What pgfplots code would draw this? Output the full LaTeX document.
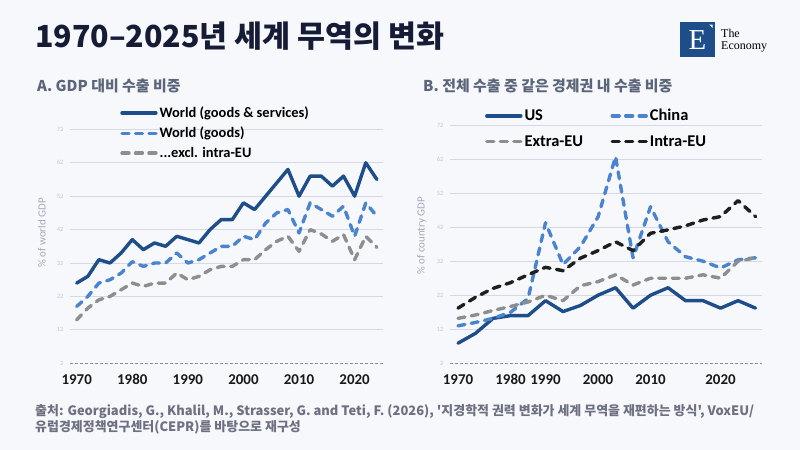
\documentclass[border=0pt]{standalone}
\usepackage{pgfplots}
\pgfplotsset{compat=1.18}
\usepackage{fontspec}
\setmainfont{Carlito}
\newfontfamily\kr{Noto Sans CJK KR}
\newfontfamily\lserif{Liberation Serif}

\definecolor{bgc}{HTML}{F7F8FC}
\definecolor{titlec}{HTML}{161B36}
\definecolor{subc}{HTML}{5B6479}
\definecolor{footc}{HTML}{6C7080}
\definecolor{dblue}{HTML}{1D4E89}
\definecolor{lblue}{HTML}{4A84CF}
\definecolor{greyc}{HTML}{8E8E8E}
\definecolor{blackc}{HTML}{1E1E1E}
\definecolor{gridc}{HTML}{D6D9E3}
\definecolor{ytc}{HTML}{C3C7D3}
\definecolor{ylc}{HTML}{A3A9BA}
\definecolor{logoc}{HTML}{1D4E89}

\pgfplotsset{
 panel/.style={
  scale only axis, anchor=south west,
  ymin=2, ymax=72,
  ytick={12,22,...,72},
  extra y ticks={2},
  extra y tick style={grid=major, major grid style={color=greyc, line width=0.7bp, dash pattern=on 3bp off 2bp}},
  ymajorgrids, major grid style={color=gridc, line width=0.8bp},
  axis line style={draw=none},
  major tick length=0pt,
  yticklabel style={font=\fontsize{6.5}{6.5}\selectfont, color=ytc, xshift=-3bp},
  xticklabel style={font=\bfseries\fontsize{15}{15}\selectfont, color=black!90, yshift=-7.5bp},
  ylabel style={font=\fontsize{11}{11}\selectfont, color=ylc, anchor=center},
  /pgf/number format/assume math mode=true,
  legend style={draw=none, fill=none, anchor=north west, inner sep=0pt},
  legend cell align=left,
  legend image code/.code={\draw[##1] (0bp,0bp) -- (34bp,0bp);},
  clip=false,
 },
 s1/.style={dblue, line width=3.4bp, line join=round, line cap=round, no marks},
 s2/.style={lblue, line width=3.4bp, dash pattern=on 7bp off 6.5bp, line cap=round, line join=round, no marks},
 s3/.style={greyc, line width=3.4bp, dash pattern=on 7bp off 6.5bp, line cap=round, line join=round, no marks},
 s4/.style={blackc, line width=3.4bp, dash pattern=on 7bp off 6.5bp, line cap=round, line join=round, no marks},
}

\pgfplotstableread{
year wgs wg ex
1970 26 19 15
1972 28 22 18.5
1974 33 26 21
1976 32 27 22
1978 35 29 24
1980 39 32.4 26
1982 36 31 25
1984 38 32 26
1986 37 32 26
1988 40 35 29
1990 39 32 27
1992 38 33 28
1994 42 35 30
1996 45 37 31
1998 45 37 31
2000 50 40 33
2002 48 39 33
2004 52 44 36
2006 56 47 38.5
2008 60 48 40
2010 52 41 35.5
2012 58 50 42
2014 58 48 40.7
2016 55 46 38.5
2018 58 49 40.5
2020 52 40 33
2022 62 50 40
2024 57 46 36.7
}\tabA

\pgfplotstableread{
idx us cn xeu ieu
0 7.9 13 15.2 18.2
1 10.8 14 16.2 21.4
2 15.2 15.2 17.5 24
3 16 17 18.7 25.7
4 16 21 20 28
5 20.4 43.3 22 30.2
6 17.2 31 20.4 29.2
7 19 36.3 24.8 32.9
8 22 45 26 35.1
9 24.2 62.7 28 37.7
10 18.2 33 25 35.1
11 22 48 27 40.2
12 24.2 37.7 27 41.2
13 20.4 33.3 27 42.4
14 20.4 32 28 44.1
15 18.2 30 27 45.1
16 20.4 32.4 32 49.8
17 18.2 33 33 45.1
}\tabB

\begin{document}
\begin{tikzpicture}
\path[use as bounding box] (0bp,0bp) rectangle (800bp,-450bp);
\fill[bgc] (0bp,0bp) rectangle (800bp,-450bp);

% title
\node[anchor=base west, inner sep=0pt, font=\kr\bfseries\fontsize{30.5}{30.5}\selectfont, color=titlec] at (35bp,-47.5bp) {1970–2025년 세계 무역의 변화};

% logo
\fill[logoc] (680bp,-22bp) rectangle (715bp,-57bp);
\fill[white] (709bp,-24.5bp) -- (712.5bp,-24.5bp) -- (712.5bp,-28bp) -- cycle;
\node[font=\lserif\fontsize{29}{29}\selectfont, color=white, inner sep=0pt] at (697.5bp,-40.5bp) {E};
\node[anchor=base west, font=\lserif\fontsize{12}{12}\selectfont, color=black, inner sep=0pt] at (721bp,-37.5bp) {The};
\node[anchor=base west, font=\lserif\fontsize{12}{12}\selectfont, color=black, inner sep=0pt] at (721bp,-49bp) {Economy};

% subtitles
\node[anchor=base west, inner sep=0pt, font=\kr\bfseries\fontsize{15}{15}\selectfont, color=subc] at (37bp,-91.5bp) {A. GDP 대비 수출 비중};
\node[anchor=base west, inner sep=0pt, font=\kr\bfseries\fontsize{15}{15}\selectfont, color=subc] at (423bp,-91.5bp) {B. 전체 수출 중 같은 경제권 내 수출 비중};

% footer
\node[anchor=base west, inner sep=0pt, font=\kr\bfseries\fontsize{13}{13}\selectfont, color=footc] at (35bp,-415.5bp) {출처: Georgiadis, G., Khalil, M., Strasser, G. and Teti, F. (2026), '지경학적 권력 변화가 세계 무역을 재편하는 방식', VoxEU/};
\node[anchor=base west, inner sep=0pt, font=\kr\bfseries\fontsize{13}{13}\selectfont, color=footc] at (35bp,-431.5bp) {유럽경제정책연구센터(CEPR)를 바탕으로 재구성};

% panel A
\begin{axis}[panel,
  at={(70bp,-363.3bp)}, width=313bp, height=234bp,
  xmin=1968.8, xmax=2025.1,
  xtick={1970,1980,1990,2000,2010,2020},
  xticklabels={1970,1980,1990,2000,2010,2020},
  ylabel={\% of world GDP},
  ylabel style={at={(axis description cs:-0.09,0.557)}},
  legend style={at={(axis description cs:0.16,1.105)}, font=\bfseries\fontsize{14.5}{14.5}\selectfont, row sep=4bp},
]
\addplot[s1] table[x=year,y=wgs]{\tabA};
\addlegendentry{World (goods \& services)}
\addplot[s2] table[x=year,y=wg]{\tabA};
\addlegendentry{World (goods)}
\addplot[s3] table[x=year,y=ex]{\tabA};
\addlegendentry{...excl. intra-EU}
\end{axis}

% panel B
\begin{axis}[panel,
  at={(450bp,-363.3bp)}, width=311.7bp, height=238.3bp,
  xmin=-0.457, xmax=17.35,
  xtick={0,3,5,8,11,15},
  xticklabels={1970,1980,1990,2000,2010,2020},
  ylabel={\% of country GDP},
  ylabel style={at={(axis description cs:-0.091,0.535)}},
  legend columns=2,
  legend style={at={(axis description cs:0.112,1.075)}, font=\bfseries\fontsize{16.5}{16.5}\selectfont, row sep=9bp},
]
\addplot[s1] table[x=idx,y=us]{\tabB};
\addlegendentry{\makebox[84bp][l]{US}}
\addplot[s2] table[x=idx,y=cn]{\tabB};
\addlegendentry{China}
\addplot[s3] table[x=idx,y=xeu]{\tabB};
\addlegendentry{\makebox[84bp][l]{Extra-EU}}
\addplot[s4] table[x=idx,y=ieu]{\tabB};
\addlegendentry{Intra-EU}
\end{axis}
\end{tikzpicture}
\end{document}
